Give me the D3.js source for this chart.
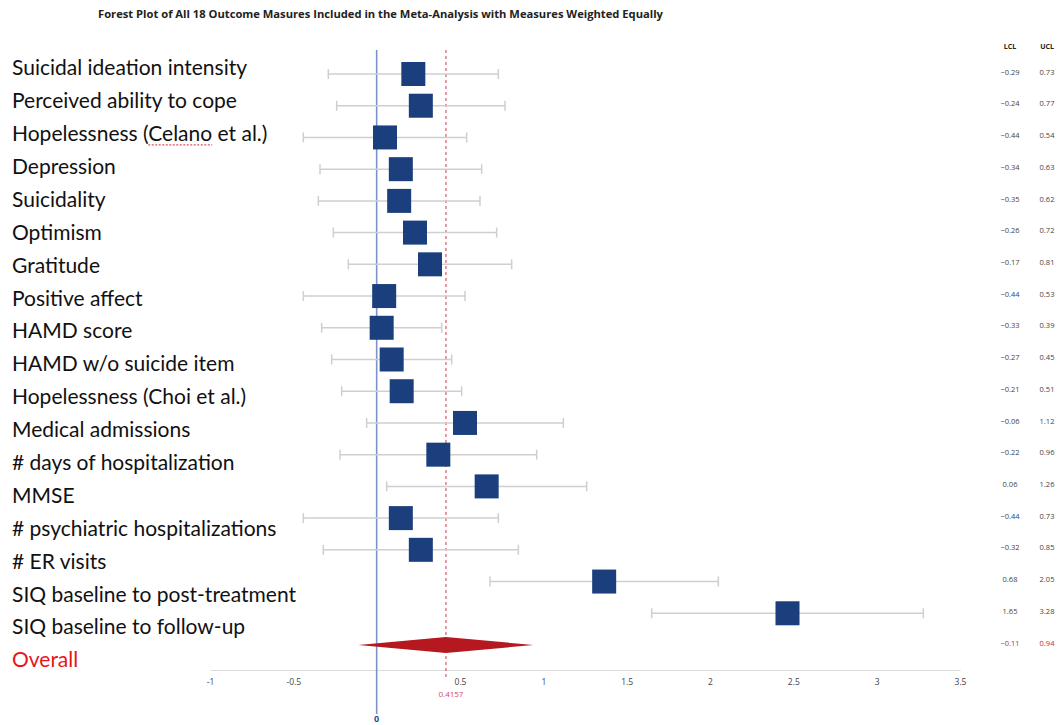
<!DOCTYPE html>
<html>
<head>
<meta charset="utf-8">
<script src="https://cdn.jsdelivr.net/npm/d3@7"></script>
<style>
  html, body { margin: 0; padding: 0; background: #ffffff; }
  svg { display: block; }
</style>
</head>
<body>
<svg id="chart" width="1060" height="725"></svg>
<script>
// Outcome measures, top to bottom
const outcomes = [
  "Suicidal ideation intensity",
  "Perceived ability to cope",
  "Hopelessness (Celano et al.)",
  "Depression",
  "Suicidality",
  "Optimism",
  "Gratitude",
  "Positive affect",
  "HAMD score",
  "HAMD w/o suicide item",
  "Hopelessness (Choi et al.)",
  "Medical admissions",
  "# days of hospitalization",
  "MMSE",
  "# psychiatric hospitalizations",
  "# ER visits",
  "SIQ baseline to post-treatment",
  "SIQ baseline to follow-up"
];
// Effect size estimates and confidence limits
const estimate = [0.22, 0.265, 0.05, 0.145, 0.135, 0.23, 0.32, 0.045, 0.03, 0.09, 0.15, 0.53, 0.37, 0.66, 0.145, 0.265, 1.365, 2.465];
const lcl = [-0.29, -0.24, -0.44, -0.34, -0.35, -0.26, -0.17, -0.44, -0.33, -0.27, -0.21, -0.06, -0.22, 0.06, -0.44, -0.32, 0.68, 1.65];
const ucl = [0.73, 0.77, 0.54, 0.63, 0.62, 0.72, 0.81, 0.53, 0.39, 0.45, 0.51, 1.12, 0.96, 1.26, 0.73, 0.85, 2.05, 3.28];
// Pooled result
const overallLabel = "Overall";
const overallEstimate = 0.4157;
const overallLcl = -0.11;
const overallUcl = 0.94;
// Axis ticks
const xTicks = [-1, -0.5, 0, 0.5, 1, 1.5, 2, 2.5, 3, 3.5];
const xTickLabels = ["-1", "-0.5", "", "0.5", "1", "1.5", "2", "2.5", "3", "3.5"];

const svg = d3.select("#chart");
const navy = "#1b3f7d";
const ciGrey = "#cfcfcf";

const x = d3.scaleLinear().domain([-1, 3.5]).range([210, 960]);

// Rows for the marks and the confidence-limit columns
const rowIdx = d3.range(outcomes.length + 1);
const y = d3.scalePoint().domain(rowIdx).range([74, 645]);
// Row label band on the left
const yLab = d3.scalePoint().domain(rowIdx).range([68, 660]);

// Title
svg.append("text")
  .attr("x", 98).attr("y", 18)
  .attr("font-family", "'Open Sans', sans-serif")
  .attr("font-weight", "bold")
  .attr("font-size", 11.2)
  .attr("fill", "#222")
  .text("Forest Plot of All 18 Outcome Masures Included in the Meta-Analysis with Measures Weighted Equally");

// Axis
const axisY = 670;
const axis = d3.axisBottom(x)
  .tickValues(xTicks)
  .tickFormat((d, i) => xTickLabels[i])
  .tickSize(0)
  .tickPadding(9);
const gAxis = svg.append("g").attr("transform", `translate(0,${axisY})`).call(axis);
gAxis.select(".domain").attr("stroke", "#dcdcdc").attr("stroke-width", 1.2);
gAxis.selectAll("text")
  .attr("font-family", "'Open Sans', sans-serif")
  .attr("font-size", 8.5)
  .attr("fill", "#444");

// Zero reference line
svg.append("line")
  .attr("x1", x(0)).attr("x2", x(0))
  .attr("y1", 50).attr("y2", 714)
  .attr("stroke", "#7b93c9").attr("stroke-width", 1.6);
svg.append("text")
  .attr("x", x(0)).attr("y", 722)
  .attr("text-anchor", "middle")
  .attr("font-family", "'Open Sans', sans-serif")
  .attr("font-weight", "bold")
  .attr("font-size", 9)
  .attr("fill", "#2a4d8f")
  .text("0");

// Pooled estimate reference line
svg.append("line")
  .attr("x1", x(overallEstimate)).attr("x2", x(overallEstimate))
  .attr("y1", 50).attr("y2", 678)
  .attr("stroke", "#d9566a").attr("stroke-width", 1.2)
  .attr("stroke-dasharray", "3,3");
svg.append("text")
  .attr("x", x(overallEstimate) + 5).attr("y", 697)
  .attr("text-anchor", "middle")
  .attr("font-family", "'Open Sans', sans-serif")
  .attr("font-size", 8)
  .attr("fill", "#d04a5e")
  .text(overallEstimate.toString());

// Confidence intervals
const rows = outcomes.map((name, i) => ({ i, name, est: estimate[i], lo: lcl[i], hi: ucl[i] }));
const gRows = svg.append("g").selectAll("g").data(rows).join("g");
gRows.append("line")
  .attr("x1", d => x(d.lo)).attr("x2", d => x(d.hi))
  .attr("y1", d => y(d.i)).attr("y2", d => y(d.i))
  .attr("stroke", ciGrey).attr("stroke-width", 1.5);
gRows.append("line")
  .attr("x1", d => x(d.lo)).attr("x2", d => x(d.lo))
  .attr("y1", d => y(d.i) - 5).attr("y2", d => y(d.i) + 5)
  .attr("stroke", ciGrey).attr("stroke-width", 1.5);
gRows.append("line")
  .attr("x1", d => x(d.hi)).attr("x2", d => x(d.hi))
  .attr("y1", d => y(d.i) - 5).attr("y2", d => y(d.i) + 5)
  .attr("stroke", ciGrey).attr("stroke-width", 1.5);
// Point estimates (equal weights, equal box sizes)
const box = 24;
gRows.append("rect")
  .attr("x", d => x(d.est) - box / 2)
  .attr("y", d => y(d.i) - box / 2)
  .attr("width", box).attr("height", box)
  .attr("fill", navy);

// Pooled diamond
const yo = y(outcomes.length);
svg.append("path")
  .attr("d", `M${x(overallLcl)},${yo} L${x(overallEstimate)},${yo - 8} L${x(overallUcl)},${yo} L${x(overallEstimate)},${yo + 8} Z`)
  .attr("fill", "#b5191f");

// Row labels
const labelFont = "Lato, 'Open Sans', sans-serif";
const labels = outcomes.concat([overallLabel]);
const labelText = svg.append("g").selectAll("text").data(labels).join("text")
  .attr("x", 12)
  .attr("y", (d, i) => yLab(i))
  .attr("dy", "0.35em")
  .attr("font-family", labelFont)
  .attr("font-size", 21)
  .attr("fill", (d, i) => i === outcomes.length ? "#e8141b" : "#111")
  .text(d => d);

// Spell-check style squiggle under "Celano"
const celanoNode = labelText.nodes()[2];
const celanoStart = labels[2].indexOf("Celano");
const sqX0 = 12 + celanoNode.getSubStringLength(0, celanoStart);
const sqX1 = sqX0 + celanoNode.getSubStringLength(celanoStart, 6);
svg.append("line")
  .attr("x1", sqX0).attr("x2", sqX1)
  .attr("y1", yLab(2) + 11).attr("y2", yLab(2) + 11)
  .attr("stroke", "#e05060").attr("stroke-width", 1.2)
  .attr("stroke-dasharray", "2,1.5");

// Confidence limit columns
const colFont = "'Open Sans', sans-serif";
const lclX = 1010, uclX = 1047;
svg.append("text").attr("x", lclX).attr("y", 49).attr("text-anchor", "middle")
  .attr("font-family", colFont).attr("font-weight", "bold").attr("font-size", 7).attr("fill", "#222").text("LCL");
svg.append("text").attr("x", uclX).attr("y", 49).attr("text-anchor", "middle")
  .attr("font-family", colFont).attr("font-weight", "bold").attr("font-size", 7).attr("fill", "#222").text("UCL");

const fmt = v => (v < 0 ? "\u2212" : "") + Math.abs(v).toFixed(2);
const colRows = rows.map(d => ({ i: d.i, lo: d.lo, hi: d.hi, pooled: false }))
  .concat([{ i: outcomes.length, lo: overallLcl, hi: overallUcl, pooled: true }]);
const gCols = svg.append("g").selectAll("g").data(colRows).join("g");
gCols.append("text")
  .attr("x", lclX).attr("y", d => y(d.i) - 2)
  .attr("dy", "0.35em").attr("text-anchor", "middle")
  .attr("font-family", colFont).attr("font-size", 7.5)
  .attr("fill", d => d.pooled ? "#c0283a" : "#444")
  .text(d => fmt(d.lo));
gCols.append("text")
  .attr("x", uclX).attr("y", d => y(d.i) - 2)
  .attr("dy", "0.35em").attr("text-anchor", "middle")
  .attr("font-family", colFont).attr("font-size", 7.5)
  .attr("fill", d => d.pooled ? "#c0283a" : "#444")
  .text(d => fmt(d.hi));
</script>
</body>
</html>
